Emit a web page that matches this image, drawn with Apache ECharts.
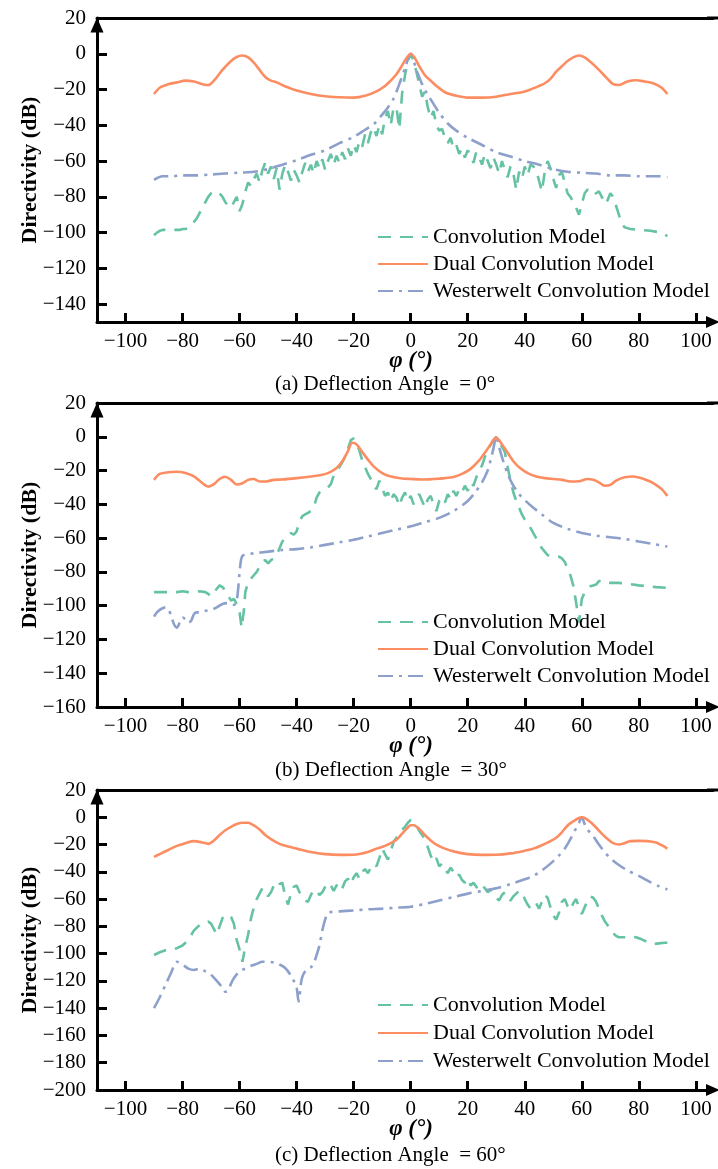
<!DOCTYPE html>
<html><head><meta charset="utf-8">
<script src="https://cdn.jsdelivr.net/npm/echarts@6/dist/echarts.min.js"></script>
<style>html,body{margin:0;padding:0;background:#fff}#c{width:718px;height:1169px}</style>
</head><body><div id="c"></div>
<script>
// ---------- tick labels ----------
const xTicks = [-100,-80,-60,-40,-20,0,20,40,60,80,100];
const yTicksA = [20,0,-20,-40,-60,-80,-100,-120,-140];
const yTicksB = [20,0,-20,-40,-60,-80,-100,-120,-140,-160];
const yTicksC = [20,0,-20,-40,-60,-80,-100,-120,-140,-160,-180,-200];
const seriesNames = ['Convolution Model','Dual Convolution Model','Westerwelt Convolution Model'];
const captions = ['(a) Deflection Angle  = 0°','(b) Deflection Angle  = 30°','(c) Deflection Angle  = 60°'];

// ---------- panel (a) ----------
const convA_phi = [-90,-89,-88,-87,-86,-85,-84,-83,-82,-81,-80,-79,-78,-77,-76,-75,-74,-73,-72,-71,-70,-69,-68,-67,-66,-65,-64,-63,-62,-61,-60,-59,-58,-57,-56,-55,-54,-53,-52,-51,-50,-49,-48,-47,-46,-45,-44,-43,-42,-41,-40,-39,-38,-37,-36,-35,-34,-33,-32,-31,-30,-29,-28,-27,-26,-25,-24,-23,-22,-21,-20,-19,-18,-17,-16,-15,-14,-13,-12,-11,-10,-9,-8,-7,-6,-5,-4,-3,-2,-1,0,1,2,3,4,5,6,7,8,9,10,11,12,13,14,15,16,17,18,19,20,21,22,23,24,25,26,27,28,29,30,31,32,33,34,35,36,37,38,39,40,41,42,43,44,45,46,47,48,49,50,51,52,53,54,55,56,57,58,59,60,61,62,63,64,65,66,67,68,69,70,71,72,73,74,75,76,77,80,84,88,90];
const convA_val = [-101.5,-100,-99,-98.5,-98.5,-98.5,-98.5,-98.5,-98.5,-98.5,-98,-98,-97.5,-96,-94,-92,-89,-86,-83,-80,-78,-77,-77,-78,-80,-83,-85,-86,-83,-80,-88,-84,-77,-72,-74,-70,-67,-72,-65,-61,-67,-63,-70,-64,-76,-67,-62,-66,-71,-65,-68,-72,-66,-61,-66,-62,-67,-60,-64,-59,-65,-60,-56,-62,-57,-61,-55,-59,-53,-57,-51,-55,-49,-52,-45,-50,-44,-41,-46,-40,-45,-36,-32,-40,-30,-30,-42,-22,-12,-4,0,-4,-10,-17,-24,-21,-30,-36,-32,-40,-43,-42,-47,-50,-47,-53,-51,-56,-53,-58,-54,-57,-61,-55,-58,-62,-56,-60,-64,-58,-62,-67,-60,-65,-69,-63,-67,-76,-66,-70,-63,-68,-62,-63,-65,-71,-77,-66,-60,-64,-70,-75,-68,-66,-72,-78,-80,-83,-86,-90,-84,-78,-76,-77,-79,-78,-77,-80,-84,-82,-78,-80,-85,-90,-95,-97,-97.5,-98,-98.5,-99,-100,-102];
const dualA_phi = [-90,-88,-85,-82,-79,-76,-73,-71,-69,-66,-63,-61,-59,-57,-55,-53,-51,-49,-47,-45,-42,-39,-35,-30,-25,-20,-16,-12,-9,-7,-5,-3,-1.5,0,1.5,3,5,7,9,12,16,20,25,30,35,39,42,45,47,49,51,53,55,57,59,61,63,66,69,71,73,76,79,82,85,88,90];
const dualA_val = [-22.5,-19,-17,-16,-15,-15.5,-17,-17.5,-15,-9,-4,-1.8,-1,-2,-5,-9,-13,-15,-16,-17.5,-19.5,-21,-22.5,-23.8,-24.3,-24.5,-23.5,-21,-18,-15,-11.5,-6.5,-2.5,0,-2.5,-7,-12,-15,-18,-21.5,-23.5,-24.5,-24.5,-24,-22.5,-21.5,-20,-18,-16.5,-14,-10,-7,-4,-2,-1,-2,-4.5,-9,-14,-17,-17.5,-15.5,-14.8,-15.5,-16.5,-19,-22.5];
const westA_phi = [-90,-87,-84,-80,-75,-70,-65,-60,-55,-50,-45,-40,-35,-30,-25,-20,-16,-13,-10,-8,-6,-4,-2,0,2,4,6,8,10,13,16,20,25,30,35,40,45,50,55,60,65,70,75,80,84,87,90];
const westA_val = [-70.5,-68.5,-68.5,-68,-68,-67.5,-67,-66.5,-66,-64.5,-62,-59.5,-56.5,-54,-50,-46.5,-42.5,-39.5,-34,-30,-25,-17,-8,0,-9,-17,-23,-28,-33,-39,-43,-47,-51,-55,-57.5,-60,-62,-64.5,-66,-66.5,-67,-68,-68,-68.5,-68.5,-68.5,-69];

// ---------- panel (b) ----------
const convB_phi = [-90,-88,-86,-84,-82,-80,-78,-76,-74,-72,-71,-70,-69,-68,-67,-66,-65,-64,-63,-62,-61,-60,-59.3,-58.5,-58,-57,-56,-55,-54,-53,-52,-51,-50,-49,-48,-47,-46,-45,-44,-43,-42,-41,-40,-39,-38,-37,-36,-35,-34,-33,-32,-31,-30,-29,-28,-27,-26,-25,-24,-23,-22,-21,-20,-19,-18,-17,-16,-15,-14,-13,-12,-11,-10,-9,-8,-7,-6,-5,-4,-3,-2,-1,0,1,2,3,4,5,6,7,8,9,10,11,12,13,14,15,16,17,18,19,20,21,22,23,24,25,26,27,28,29,30,31,32,33,34,35,36,37,38,39,40,41,42,43,44,45,46,47,48,49,50,51,52,53,54,55,56,57,58,59,60,61,62,63,64,65,66,67,68,70,73,76,80,83,86,90];
const convB_val = [-92,-92,-92,-92,-92,-91.5,-92,-92,-91.5,-92,-93,-94.5,-92,-90,-88,-89,-91,-94,-97,-96,-99,-104,-113,-103,-92,-86,-84,-82,-80,-77,-74,-73,-75,-73,-72,-70,-66,-62,-60,-59,-57,-58,-56,-50,-47,-46,-45,-44,-42,-36,-33,-32,-31,-30,-28,-23,-20,-18,-15,-12,-7,-2,-1,-4,-8,-14,-18,-22,-25,-29,-31,-26,-30,-35,-33,-38,-34,-36,-41,-36,-33,-38,-35,-40,-36,-34,-38,-42,-37,-35,-40,-44,-38,-36,-39,-34,-37,-32,-35,-31,-33,-29,-32,-27,-29,-24,-20,-17,-12,-8,-5,-2,0,-3,-6,-9,-18,-26,-33,-38,-42,-46,-49,-51,-54,-57,-60,-63,-66,-68,-70,-71,-71,-71,-71,-72,-74,-78,-82,-88,-98,-110,-96,-92,-90,-88.5,-88,-87.5,-85.5,-85,-86,-86.5,-86.5,-87,-88,-88.5,-89,-89.5];
const dualB_phi = [-90,-88,-85,-82,-79,-76,-73,-71,-69,-67,-65,-63,-61,-59,-57,-55,-53,-51,-48,-45,-40,-35,-32,-29,-26,-24,-22,-20.5,-19,-17,-15,-13,-10,-7,-3,0,4,8,12,15,18,21,24,26,28,29,30,31,32,34,36,38,41,44,47,50,53,56,59,62,64,66,68,70,72,75,78,81,84,86,88,90];
const dualB_val = [-25.5,-22,-21,-20.7,-21.5,-23.5,-27.5,-29.5,-28,-25,-23.7,-25.5,-28.3,-27.5,-25.5,-25,-26.5,-26.5,-25.5,-25.3,-24.5,-23.5,-22.8,-21.5,-18.5,-14.5,-8.5,-3.5,-4.5,-9,-13.5,-17.5,-21.5,-23.5,-24.7,-25,-25.3,-25,-24.5,-23.8,-22,-19,-14,-9.5,-4.5,-1.8,-0.5,-2,-4.5,-9.5,-14.5,-18,-21.5,-23.5,-24.5,-25,-25.5,-26.5,-26.3,-25,-25.5,-27,-29,-28.5,-26,-24,-23.5,-24.5,-26.5,-28.5,-31,-35];
const westB_phi = [-90,-89,-88,-87,-86,-85,-84,-83,-82,-81,-80,-79,-78,-77,-76,-75,-74,-72,-70,-68,-66,-64,-63,-62,-61.5,-61,-60.5,-60,-59.5,-59,-58,-55,-50,-45,-40,-35,-30,-25,-20,-15,-10,-5,0,5,10,15,20,23,25,27,28,29,30,31,32,34,36,38,40,43,46,50,55,60,65,70,75,80,85,90];
const westB_val = [-106.5,-104,-102.5,-101.5,-101,-102,-106,-111,-113,-110,-107,-108,-110,-109,-105,-104,-104,-103,-102.5,-101,-99,-98.5,-99,-99.5,-99,-97,-90,-80,-73,-70.5,-69.8,-69,-68,-67,-66.5,-65.5,-64,-62.5,-61,-59,-57,-55,-53,-50.5,-48,-44,-38,-32,-27,-20,-14,-7,0,-6,-12,-22,-29,-34,-37.5,-42,-46,-51,-54.5,-57,-58.5,-59.5,-60.5,-62,-63.5,-65];

// ---------- panel (c) ----------
const convC_phi = [-90,-88,-86,-84,-82,-80,-78,-76,-74,-72,-71,-70,-69,-68,-67,-66,-65,-64,-63,-62,-61,-60,-59,-58,-57,-56,-55,-54,-53,-52,-51,-50,-49,-48,-47,-46,-45,-44,-43,-42,-41,-40,-39,-38,-37,-36,-35,-34,-33,-32,-31,-30,-29,-28,-27,-26,-25,-24,-23,-22,-21,-20,-19,-18,-17,-16,-15,-14,-13,-12,-11,-10,-9,-8,-7,-6,-5,-4,-3,-2,-1,0,1,2,3,4,5,6,7,8,9,10,11,12,13,14,15,16,17,18,19,20,21,22,23,24,25,26,27,28,29,30,31,32,33,34,35,36,37,38,39,40,41,42,43,44,45,46,47,48,49,50,51,52,53,54,55,56,57,58,59,60,61,62,63,64,65,66,67,68,69,70,71,72,73,75,77,79,81,83,85,87,89,90];
const convC_val = [-101,-99,-97.5,-97,-96,-94,-90,-83,-79,-77,-76.5,-78,-82,-86,-80,-74,-72,-71.5,-73,-78,-90,-97,-106,-95,-86,-74,-66,-60,-56,-52,-54,-58,-55,-50,-52,-49,-48,-58,-64,-56,-51,-50,-55,-58,-61,-62,-57,-53,-54,-57,-55,-51,-48,-50,-54,-50,-48,-52,-47,-45,-49,-44,-41,-45,-40,-38,-41,-37,-34,-36,-30,-23,-27,-31,-25,-18,-15,-12,-9,-7,-4,-2,-3,-6,-10,-13,-16,-22,-28,-33,-30,-36,-34,-38,-41,-37,-40,-44,-42,-46,-48,-45,-50,-48,-51,-53,-50,-52,-55,-53,-56,-59,-61,-57,-55,-59,-61,-58,-56,-54,-55,-60,-64,-67,-66,-63,-67,-62,-57,-59,-66,-72,-75,-70,-62,-60,-65,-68,-63,-60,-66,-71,-66,-61,-58,-59,-62,-67,-72,-76,-79,-82,-85,-87,-88,-88,-87.5,-88,-89.5,-91.5,-93,-92.5,-92,-92];
const dualC_phi = [-90,-88,-85,-82,-79,-76,-73,-71,-69,-67,-65,-63,-61,-59,-57,-55,-53,-51,-49,-46,-43,-40,-35,-30,-25,-20,-15,-12,-9,-7,-5,-3,-1,0,1,3,5,7,9,12,15,20,25,30,35,40,43,46,49,51,53,55,57,59,60,61,63,65,67,69,71,73,75,77,80,83,86,88,90];
const dualC_val = [-29,-27,-24,-21,-19,-17.5,-18.5,-19.5,-17,-13,-9.5,-7,-5,-4,-4,-6,-9,-13,-16,-19.5,-21.5,-23,-25.5,-27,-27.6,-27.5,-25.5,-23,-21,-19,-16.5,-12,-7.5,-5.8,-5.8,-8.5,-13,-17,-20,-23,-25,-27,-27.6,-27.5,-26.5,-24.5,-23,-20.5,-17.5,-15,-11,-6,-3,-0.5,0,-0.5,-3.5,-7.5,-12,-16,-19,-20,-19,-17.5,-17.3,-17.5,-18.5,-20.5,-23];
const westC_phi = [-90,-88,-86,-84,-82,-80,-78,-76,-74,-72,-70,-68,-66,-65,-64,-63,-62,-60,-58,-56,-54,-52,-50,-48,-46,-44,-42,-41,-40,-39.3,-39,-38.5,-38,-37,-36,-35,-34,-33,-32,-31,-30,-29,-28,-25,-20,-15,-10,-5,0,5,10,15,20,25,30,35,40,43,46,49,52,54,56,58,59,60,61,62,64,66,68,70,73,76,80,84,87,90];
const westC_val = [-140,-132,-123,-114,-106,-108,-111,-112,-111,-113,-115.5,-120,-125,-128,-127,-122,-118,-113,-111,-109,-107.5,-106,-106,-106.5,-108,-110.5,-116,-120,-125,-135,-132,-122,-117,-113,-111,-110,-107,-101,-94,-83,-75,-70,-69.5,-69,-68.3,-67.5,-67,-66.3,-65.6,-63.5,-61,-58.5,-56,-54,-52,-49,-45.5,-43,-39,-34,-28,-23,-16,-8,-4,0,-5,-9,-14,-20,-25.5,-30,-35,-39,-43,-47.5,-50.5,-53];

// ---------- build ----------
const FONT = '"Liberation Serif", "Times New Roman", Times, serif';
const COLORS = ['#66c2a5', '#fc8d62', '#8da0cb'];
const fmt = v => (v < 0 ? '\u2212' + Math.abs(v) : String(v));
const pairs = (xs, ys) => xs.map((x, i) => [x, ys[i]]);

const panels = [
  {top: 18, height: 304, ymin: -150, yTicks: yTicksA, legendTop: 226, captionTop: 374, legendGap: 5,
   data: [pairs(convA_phi, convA_val), pairs(dualA_phi, dualA_val), pairs(westA_phi, westA_val)]},
  {top: 403, height: 304, ymin: -160, yTicks: yTicksB, legendTop: 611, captionTop: 760, legendGap: 5,
   data: [pairs(convB_phi, convB_val), pairs(dualB_phi, dualB_val), pairs(westB_phi, westB_val)]},
  {top: 790, height: 300, ymin: -200, yTicks: yTicksC, legendTop: 994, captionTop: 1145, legendGap: 6,
   data: [pairs(convC_phi, convC_val), pairs(dualC_phi, dualC_val), pairs(westC_phi, westC_val)]}
];

const lineTypes = [[13, 9], 'solid', [15, 6, 3, 6]];
const axisLineStyle = {color: '#000', width: 3};

const option = {
  animation: false,
  backgroundColor: '#fff',
  title: [], grid: [], xAxis: [], yAxis: [], legend: [], series: []
};

panels.forEach((p, i) => {
  option.grid.push({left: 97, right: 5, top: p.top, height: p.height, containLabel: false});
  option.xAxis.push({
    type: 'value', gridIndex: i, min: -110, max: 106, position: 'bottom',
    axisLine: {show: true, onZero: false, lineStyle: axisLineStyle, symbol: ['none', 'triangle'], symbolSize: [12, 14]},
    axisTick: {show: true, inside: true, length: 9, lineStyle: {color: '#000', width: 3}, customValues: xTicks},
    axisLabel: {show: true, customValues: xTicks, formatter: fmt, fontFamily: FONT, fontSize: 21, color: '#000', margin: 9},
    splitLine: {show: false},
    name: 'φ (°)', nameLocation: 'middle', nameGap: 28, nameMoveOverlap: false,
    nameTextStyle: {fontFamily: FONT, fontSize: 23, fontWeight: 'bold', fontStyle: 'italic', color: '#000', padding: [0, 0, 0, 12]}
  });
  option.yAxis.push({
    type: 'value', gridIndex: i, min: p.ymin, max: 20,
    axisLine: {show: true, onZero: false, lineStyle: axisLineStyle, symbol: ['none', 'triangle'], symbolSize: [13, 15], symbolOffset: [0, -7]},
    axisTick: {show: true, inside: true, length: 10, lineStyle: {color: '#000', width: 3}, customValues: p.yTicks.filter(v => v !== 20)},
    axisLabel: {show: true, customValues: p.yTicks, formatter: fmt, fontFamily: FONT, fontSize: 21, color: '#000', margin: 11},
    splitLine: {show: false},
    name: 'Directivity (dB)', nameLocation: 'middle', nameGap: 56, nameMoveOverlap: false,
    nameTextStyle: {fontFamily: FONT, fontSize: 22, fontWeight: 'bold', color: '#000'}
  });
  option.title.push({
    text: captions[i], left: 275, top: p.captionTop, padding: 0,
    textStyle: {fontFamily: FONT, fontSize: 21, fontWeight: 'normal', color: '#000'}
  });
  option.legend.push({
    orient: 'vertical', left: 377, top: p.legendTop, padding: 0, itemGap: p.legendGap,
    itemWidth: 50, itemHeight: 14, data: seriesNames,
    itemStyle: {opacity: 0},
    textStyle: {fontFamily: FONT, fontSize: 22, color: '#000', lineHeight: 22}
  });
  seriesNames.forEach((name, k) => {
    option.series.push({
      type: 'line', name: name, xAxisIndex: i, yAxisIndex: i,
      data: p.data[k], showSymbol: false, symbol: 'none',
      smooth: k === 0 ? false : 0.3,
      color: COLORS[k],
      lineStyle: {color: COLORS[k], width: 2.6, type: lineTypes[k]},
      z: k === 1 ? 3 : 2
    });
  });
});

// top border axes (one per panel)
panels.forEach((p, i) => {
  option.xAxis.push({
    type: 'value', gridIndex: i, min: -110, max: 106, position: 'top',
    axisLine: {show: true, onZero: false, lineStyle: axisLineStyle, symbol: ['none', 'rect'], symbolSize: [3, 12]},
    axisTick: {show: false}, axisLabel: {show: false}, splitLine: {show: false}
  });
});

const chart = echarts.init(document.getElementById('c'), null, {renderer: 'canvas'});
chart.setOption(option);
</script>
</body></html>
